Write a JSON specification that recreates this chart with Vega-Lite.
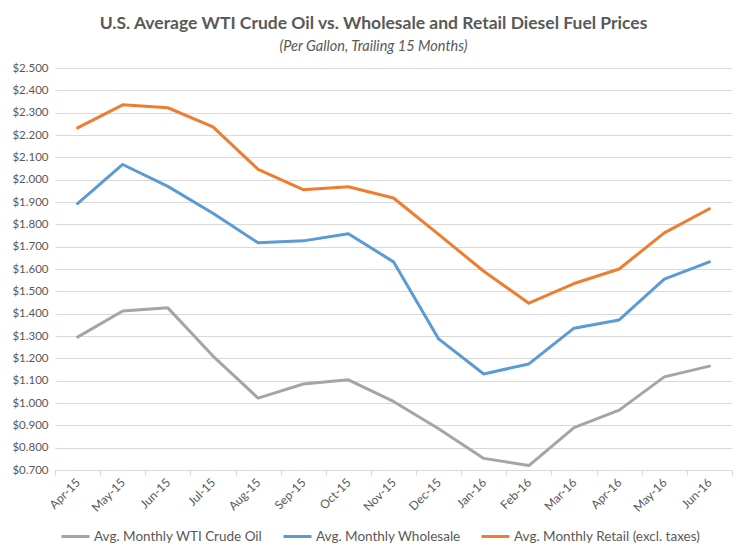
{
  "$schema": "https://vega.github.io/schema/vega-lite/v6.json",
  "width": 677,
  "height": 402,
  "autosize": {"type": "none"},
  "padding": {"left": 55, "top": 68, "right": 15, "bottom": 87},
  "background": "white",
  "title": {
    "text": "U.S. Average WTI Crude Oil vs. Wholesale and Retail Diesel Fuel Prices",
    "subtitle": "(Per Gallon, Trailing 15 Months)",
    "anchor": "middle",
    "frame": "group",
    "dx": -20,
    "offset": 9,
    "font": "Lato",
    "fontSize": 17.5,
    "fontWeight": "bold",
    "color": "#595959",
    "subtitleFont": "Lato",
    "subtitleFontSize": 14.5,
    "subtitleFontStyle": "italic",
    "subtitleColor": "#595959",
    "subtitlePadding": 7
  },
  "data": {
    "values": [
      {"month": "Apr-15", "series": "Avg. Monthly WTI Crude Oil", "value": 1.295},
      {"month": "May-15", "series": "Avg. Monthly WTI Crude Oil", "value": 1.412},
      {"month": "Jun-15", "series": "Avg. Monthly WTI Crude Oil", "value": 1.426},
      {"month": "Jul-15", "series": "Avg. Monthly WTI Crude Oil", "value": 1.210},
      {"month": "Aug-15", "series": "Avg. Monthly WTI Crude Oil", "value": 1.022},
      {"month": "Sep-15", "series": "Avg. Monthly WTI Crude Oil", "value": 1.085},
      {"month": "Oct-15", "series": "Avg. Monthly WTI Crude Oil", "value": 1.104},
      {"month": "Nov-15", "series": "Avg. Monthly WTI Crude Oil", "value": 1.007},
      {"month": "Dec-15", "series": "Avg. Monthly WTI Crude Oil", "value": 0.885},
      {"month": "Jan-16", "series": "Avg. Monthly WTI Crude Oil", "value": 0.752},
      {"month": "Feb-16", "series": "Avg. Monthly WTI Crude Oil", "value": 0.720},
      {"month": "Mar-16", "series": "Avg. Monthly WTI Crude Oil", "value": 0.890},
      {"month": "Apr-16", "series": "Avg. Monthly WTI Crude Oil", "value": 0.968},
      {"month": "May-16", "series": "Avg. Monthly WTI Crude Oil", "value": 1.117},
      {"month": "Jun-16", "series": "Avg. Monthly WTI Crude Oil", "value": 1.165},
      {"month": "Apr-15", "series": "Avg. Monthly Wholesale", "value": 1.893},
      {"month": "May-15", "series": "Avg. Monthly Wholesale", "value": 2.068},
      {"month": "Jun-15", "series": "Avg. Monthly Wholesale", "value": 1.970},
      {"month": "Jul-15", "series": "Avg. Monthly Wholesale", "value": 1.850},
      {"month": "Aug-15", "series": "Avg. Monthly Wholesale", "value": 1.717},
      {"month": "Sep-15", "series": "Avg. Monthly Wholesale", "value": 1.726},
      {"month": "Oct-15", "series": "Avg. Monthly Wholesale", "value": 1.758},
      {"month": "Nov-15", "series": "Avg. Monthly Wholesale", "value": 1.632},
      {"month": "Dec-15", "series": "Avg. Monthly Wholesale", "value": 1.287},
      {"month": "Jan-16", "series": "Avg. Monthly Wholesale", "value": 1.130},
      {"month": "Feb-16", "series": "Avg. Monthly Wholesale", "value": 1.175},
      {"month": "Mar-16", "series": "Avg. Monthly Wholesale", "value": 1.335},
      {"month": "Apr-16", "series": "Avg. Monthly Wholesale", "value": 1.372},
      {"month": "May-16", "series": "Avg. Monthly Wholesale", "value": 1.555},
      {"month": "Jun-16", "series": "Avg. Monthly Wholesale", "value": 1.632},
      {"month": "Apr-15", "series": "Avg. Monthly Retail (excl. taxes)", "value": 2.232},
      {"month": "May-15", "series": "Avg. Monthly Retail (excl. taxes)", "value": 2.335},
      {"month": "Jun-15", "series": "Avg. Monthly Retail (excl. taxes)", "value": 2.322},
      {"month": "Jul-15", "series": "Avg. Monthly Retail (excl. taxes)", "value": 2.236},
      {"month": "Aug-15", "series": "Avg. Monthly Retail (excl. taxes)", "value": 2.046},
      {"month": "Sep-15", "series": "Avg. Monthly Retail (excl. taxes)", "value": 1.955},
      {"month": "Oct-15", "series": "Avg. Monthly Retail (excl. taxes)", "value": 1.968},
      {"month": "Nov-15", "series": "Avg. Monthly Retail (excl. taxes)", "value": 1.918},
      {"month": "Dec-15", "series": "Avg. Monthly Retail (excl. taxes)", "value": 1.755},
      {"month": "Jan-16", "series": "Avg. Monthly Retail (excl. taxes)", "value": 1.590},
      {"month": "Feb-16", "series": "Avg. Monthly Retail (excl. taxes)", "value": 1.447},
      {"month": "Mar-16", "series": "Avg. Monthly Retail (excl. taxes)", "value": 1.535},
      {"month": "Apr-16", "series": "Avg. Monthly Retail (excl. taxes)", "value": 1.600},
      {"month": "May-16", "series": "Avg. Monthly Retail (excl. taxes)", "value": 1.762},
      {"month": "Jun-16", "series": "Avg. Monthly Retail (excl. taxes)", "value": 1.870}
    ]
  },
  "mark": {"type": "line", "strokeWidth": 3, "strokeCap": "round", "strokeJoin": "round"},
  "encoding": {
    "x": {
      "field": "month",
      "type": "ordinal",
      "sort": ["Apr-15","May-15","Jun-15","Jul-15","Aug-15","Sep-15","Oct-15","Nov-15","Dec-15","Jan-16","Feb-16","Mar-16","Apr-16","May-16","Jun-16"],
      "scale": {"type": "band", "paddingInner": 0, "paddingOuter": 0},
      "axis": {
        "title": null,
        "labelAngle": -45,
        "labelAlign": "right",
        "labelBaseline": "middle",
        "labelPadding": 5,
        "labelFont": "Lato",
        "labelFontSize": 12,
        "labelColor": "#595959",
        "tickBand": "extent",
        "tickSize": 5,
        "tickColor": "#d9d9d9",
        "domainColor": "#d9d9d9",
        "grid": false
      }
    },
    "y": {
      "field": "value",
      "type": "quantitative",
      "scale": {"domain": [0.7, 2.5], "nice": false, "zero": false},
      "axis": {
        "title": null,
        "values": [0.7,0.8,0.9,1.0,1.1,1.2,1.3,1.4,1.5,1.6,1.7,1.8,1.9,2.0,2.1,2.2,2.3,2.4,2.5],
        "format": "$.3f",
        "domain": false,
        "ticks": false,
        "labelPadding": 7,
        "labelFont": "Lato",
        "labelFontSize": 11.5,
        "labelColor": "#595959",
        "gridColor": "#d9d9d9",
        "gridWidth": 1
      }
    },
    "color": {
      "field": "series",
      "type": "nominal",
      "scale": {
        "domain": ["Avg. Monthly WTI Crude Oil", "Avg. Monthly Wholesale", "Avg. Monthly Retail (excl. taxes)"],
        "range": ["#a5a5a5", "#5b9bd5", "#ed7d31"]
      },
      "legend": {
        "title": null,
        "orient": "none",
        "legendX": 5,
        "legendY": 453,
        "direction": "horizontal",
        "symbolType": "stroke",
        "symbolSize": 784,
        "symbolStrokeWidth": 3,
        "labelFont": "Lato",
        "labelFontSize": 13.5,
        "labelColor": "#595959",
        "labelLimit": 300,
        "columnPadding": 14,
        "labelOffset": 3
      }
    }
  },
  "config": {"view": {"stroke": null}}
}
